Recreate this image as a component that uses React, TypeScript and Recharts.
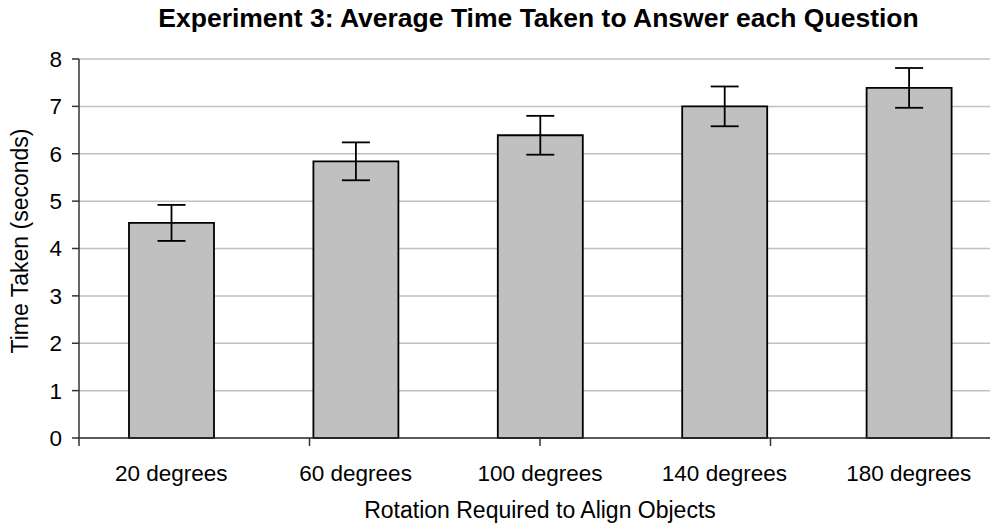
import React from 'react';
import { BarChart, Bar, XAxis, YAxis, CartesianGrid, ErrorBar, Label } from 'recharts';

const categories = ['20 degrees', '60 degrees', '100 degrees', '140 degrees', '180 degrees'];
const meanTimes = [4.54, 5.84, 6.39, 7.0, 7.39];
const errorMargins = [0.38, 0.4, 0.41, 0.42, 0.42];
const yTicks = [0, 1, 2, 3, 4, 5, 6, 7, 8];
// category boundaries, where the tick marks sit on the x axis
const edgeTicks = [0, 1, 2, 3, 4, 5];

const data = categories.map((name, i) => ({ name, time: meanTimes[i], err: errorMargins[i] }));

const FONT = '"Liberation Sans", Arial, sans-serif';
const axisColor = '#333';

const App: React.FC = () => {
  return (
    <div style={{ position: 'absolute', left: 0, top: 0, width: 990, height: 529, overflow: 'hidden', background: '#fff', fontFamily: FONT }}>
      {/* title */}
      <div
        style={{
          position: 'absolute',
          left: 0,
          top: 5,
          width: 1077,
          textAlign: 'center',
          fontSize: 26.5,
          lineHeight: '26px',
          fontWeight: 'bold',
          color: '#000',
          whiteSpace: 'nowrap',
        }}
      >
        Experiment 3: Average Time Taken to Answer each Question
      </div>

      <BarChart width={1010} height={529} data={data} margin={{ top: 59, right: 9, left: 0, bottom: 0 }}>
        <CartesianGrid vertical={false} stroke="#c0c0c0" strokeWidth={1.5} />
        <XAxis
          xAxisId="b"
          dataKey="name"
          height={83}
          axisLine={false}
          tickLine={false}
          tickSize={0}
          tickMargin={19}
          tick={{ fill: '#000', fontSize: 22.5, fontFamily: FONT }}
        >
          <Label
            value="Rotation Required to Align Objects"
            position="insideBottom"
            offset={11}
            style={{ fill: '#000', fontSize: 23, fontFamily: FONT }}
          />
        </XAxis>
        <XAxis
          xAxisId="a"
          type="number"
          domain={[0, 5]}
          ticks={edgeTicks}
          tickFormatter={() => ''}
          height={8}
          tickSize={8}
          stroke={axisColor}
          strokeWidth={1.5}
        />
        <YAxis
          width={79}
          domain={[0, 8]}
          ticks={yTicks}
          interval={0}
          tickSize={7}
          tickMargin={10}
          stroke={axisColor}
          strokeWidth={1.5}
          tick={{ fill: '#000', fontSize: 22.5, fontFamily: FONT }}
        >
          <Label
            content={() => (
              <text
                x={28}
                y={241}
                transform="rotate(-90, 28, 241)"
                textAnchor="middle"
                fill="#000"
                fontSize={23}
                fontFamily={FONT}
              >
                Time Taken (seconds)
              </text>
            )}
          />
        </YAxis>
        <Bar
          xAxisId="b"
          dataKey="time"
          fill="#c0c0c0"
          stroke="#000"
          strokeWidth={1.8}
          barSize={85}
          isAnimationActive={false}
        >
          <ErrorBar dataKey="err" direction="y" width={14} stroke="#000" strokeWidth={1.8} />
        </Bar>
      </BarChart>
    </div>
  );
};

export default App;
